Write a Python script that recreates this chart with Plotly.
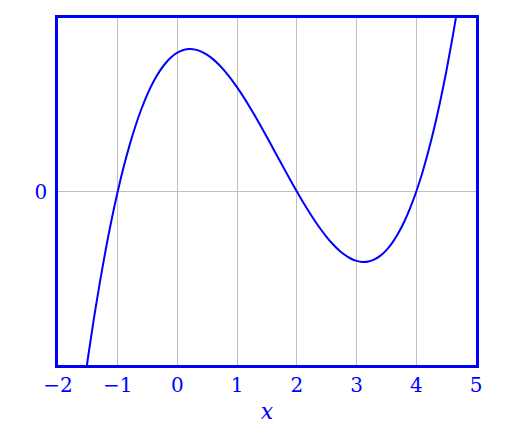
import plotly.graph_objects as go

x_vals = [-1.6, -1.5, -1.4, -1.3, -1.2, -1.1, -1.0, -0.9, -0.8, -0.7, -0.6, -0.5, -0.4, -0.3, -0.2, -0.1,
          0.0, 0.1, 0.2, 0.3, 0.4, 0.5, 0.6, 0.7, 0.8, 0.9, 1.0, 1.1, 1.2, 1.3, 1.4, 1.5, 1.6, 1.7, 1.8, 1.9,
          2.0, 2.1, 2.2, 2.3, 2.4, 2.5, 2.6, 2.7, 2.8, 2.9, 3.0, 3.1, 3.2, 3.3, 3.4, 3.5, 3.6, 3.7, 3.8, 3.9,
          4.0, 4.1, 4.2, 4.3, 4.4, 4.5, 4.6, 4.7]
y_vals = [-12.096, -9.625, -7.344, -5.247, -3.328, -1.581, 0.0, 1.421, 2.688, 3.807, 4.784, 5.625, 6.336, 6.923, 7.392, 7.749,
          8.0, 8.151, 8.208, 8.177, 8.064, 7.875, 7.616, 7.293, 6.912, 6.479, 6.0, 5.481, 4.928, 4.347, 3.744, 3.125, 2.496, 1.863, 1.232, 0.609,
          0.0, -0.589, -1.152, -1.683, -2.176, -2.625, -3.024, -3.367, -3.648, -3.861, -4.0, -4.059, -4.032, -3.913, -3.696, -3.375, -2.944, -2.397, -1.728, -0.931,
          0.0, 1.071, 2.288, 3.657, 5.184, 6.875, 8.736, 10.773]
x_ticks = [-2, -1, 0, 1, 2, 3, 4, 5]
x_tick_labels = ["\u22122", "\u22121", "0", "1", "2", "3", "4", "5"]
y_ticks = [0]
y_tick_labels = ["0"]

blue = "#0000ff"
serif = "DejaVu Serif"

fig = go.Figure()
fig.add_trace(go.Scatter(x=x_vals, y=y_vals, mode="lines", line=dict(color=blue, width=2, shape="spline"),
                         showlegend=False, hoverinfo="skip"))

fig.update_layout(
    width=513, height=431,
    margin=dict(l=50, r=45, t=10, b=74, autoexpand=False),
    paper_bgcolor="white", plot_bgcolor="white",
    font=dict(family=serif, color=blue, size=20),
    xaxis=dict(range=[-2, 5], tickvals=x_ticks, ticktext=x_tick_labels,
               showgrid=True, gridcolor="#bfbfbf", gridwidth=1, zeroline=False,
               showline=True, linecolor=blue, linewidth=2.5, mirror=True,
               ticks="", ticklen=0, ticklabelstandoff=0,
               tickfont=dict(family=serif, size=20, color=blue),
               title=dict(text="<i>x</i>", font=dict(family=serif, size=22, color=blue), standoff=8)),
    yaxis=dict(range=[-10, 10], tickvals=y_ticks, ticktext=y_tick_labels,
               showgrid=True, gridcolor="#bfbfbf", gridwidth=1, zeroline=False,
               showline=True, linecolor=blue, linewidth=2.5, mirror=True,
               ticks="", ticklen=0, ticklabelstandoff=4,
               tickfont=dict(family=serif, size=20, color=blue)),
)

fig.write_html("out.html")
